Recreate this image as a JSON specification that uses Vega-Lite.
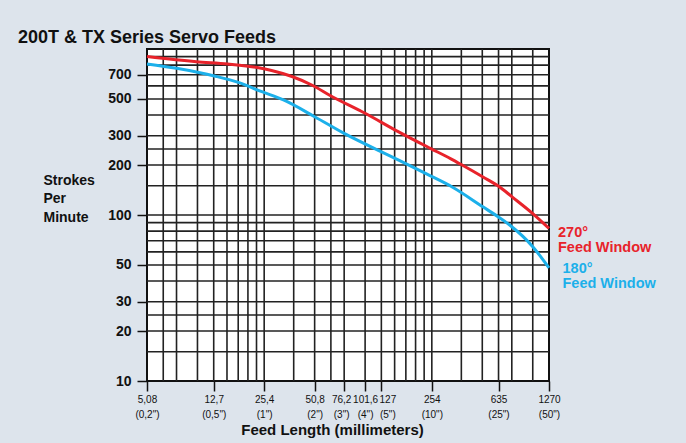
{
  "$schema": "https://vega.github.io/schema/vega-lite/v6.json",
  "autosize": "none",
  "width": 402,
  "height": 332,
  "padding": {"left": 147, "top": 49, "right": 137, "bottom": 62},
  "background": "#dde4ec",
  "title": {
    "text": "200T & TX Series Servo Feeds",
    "anchor": "start",
    "frame": "group",
    "font": "Liberation Sans",
    "fontSize": 18,
    "fontWeight": "bold",
    "color": "#111111",
    "dx": -129,
    "baseline": "alphabetic",
    "offset": -13
  },
  "config": {
    "font": "Liberation Sans",
    "view": {"fill": "white", "stroke": "#111111", "strokeWidth": 2}
  },
  "datasets": {
    "curves": [
      {"series": "270°", "mm": 5.08, "spm": 900},
      {"series": "270°", "mm": 10, "spm": 838},
      {"series": "270°", "mm": 15.4, "spm": 812},
      {"series": "270°", "mm": 22.7, "spm": 776},
      {"series": "270°", "mm": 28.1, "spm": 742},
      {"series": "270°", "mm": 37.2, "spm": 683},
      {"series": "270°", "mm": 49.5, "spm": 603},
      {"series": "270°", "mm": 62.8, "spm": 525},
      {"series": "270°", "mm": 101.6, "spm": 410},
      {"series": "270°", "mm": 160, "spm": 318},
      {"series": "270°", "mm": 249, "spm": 252},
      {"series": "270°", "mm": 330, "spm": 218},
      {"series": "270°", "mm": 385, "spm": 200},
      {"series": "270°", "mm": 510, "spm": 170},
      {"series": "270°", "mm": 642, "spm": 148},
      {"series": "270°", "mm": 762, "spm": 129},
      {"series": "270°", "mm": 1016, "spm": 102},
      {"series": "270°", "mm": 1270, "spm": 83},
      {"series": "180°", "mm": 5.08, "spm": 812},
      {"series": "180°", "mm": 7.62, "spm": 765},
      {"series": "180°", "mm": 10.5, "spm": 720},
      {"series": "180°", "mm": 12.8, "spm": 688},
      {"series": "180°", "mm": 18, "spm": 627},
      {"series": "180°", "mm": 24.6, "spm": 553},
      {"series": "180°", "mm": 33.1, "spm": 493},
      {"series": "180°", "mm": 50.8, "spm": 391},
      {"series": "180°", "mm": 76.2, "spm": 310},
      {"series": "180°", "mm": 160, "spm": 215},
      {"series": "180°", "mm": 233, "spm": 178},
      {"series": "180°", "mm": 338, "spm": 147},
      {"series": "180°", "mm": 512, "spm": 112},
      {"series": "180°", "mm": 627, "spm": 98},
      {"series": "180°", "mm": 740, "spm": 87},
      {"series": "180°", "mm": 1016, "spm": 64.4},
      {"series": "180°", "mm": 1270, "spm": 48}
    ],
    "xgrid": [
      {"mm": 6.35}, {"mm": 7.62}, {"mm": 10.16}, {"mm": 12.7}, {"mm": 15.24},
      {"mm": 17.78}, {"mm": 20.32}, {"mm": 22.86}, {"mm": 25.4}, {"mm": 38.1},
      {"mm": 50.8}, {"mm": 63.5}, {"mm": 76.2}, {"mm": 101.6}, {"mm": 127},
      {"mm": 152.4}, {"mm": 177.8}, {"mm": 203.2}, {"mm": 228.6}, {"mm": 254},
      {"mm": 381}, {"mm": 508}, {"mm": 635}, {"mm": 762}, {"mm": 1016}
    ],
    "ygrid": [
      {"spm": 15}, {"spm": 20}, {"spm": 25}, {"spm": 30}, {"spm": 40},
      {"spm": 50}, {"spm": 60}, {"spm": 70}, {"spm": 80}, {"spm": 90},
      {"spm": 100}, {"spm": 150}, {"spm": 200}, {"spm": 250}, {"spm": 300},
      {"spm": 400}, {"spm": 500}, {"spm": 600}, {"spm": 700}, {"spm": 800},
      {"spm": 900}
    ],
    "labels": [
      {"series": "270°", "mm": 1270, "spm": 73.7, "t": "270°\nFeed Window"},
      {"series": "180°", "mm": 1270, "spm": 45, "t": "180°\nFeed Window"}
    ]
  },
  "layer": [
    {
      "data": {"name": "xgrid"},
      "mark": {"type": "rule", "color": "#222222", "strokeWidth": 1.6},
      "encoding": {
        "x": {
          "field": "mm", "type": "quantitative",
          "scale": {"type": "log", "domain": [5.08, 1270], "nice": false},
          "axis": {
            "values": [5.08, 12.7, 25.4, 50.8, 76.2, 101.6, 127, 254, 635, 1270],
            "labelExpr": "[replace(format(datum.value, '~g'), '.', ','), '(' + replace(format(datum.value / 25.4, '.2~f'), '.', ',') + '\")']",
            "grid": false, "domain": false,
            "tickSize": 10, "tickColor": "#111111", "tickWidth": 1.5,
            "labelFont": "Liberation Sans", "labelFontSize": 10, "labelLineHeight": 15,
            "labelOffset": {"condition": [{"test": "datum.value == 127", "value": 6}, {"test": "datum.value == 76.2", "value": -3}], "value": 0},
            "labelPadding": 3, "labelColor": "#111111", "labelOverlap": false, "labelFlush": false,
            "title": "Feed Length (millimeters)", "titleFontSize": 15, "titleFontWeight": "bold",
            "titleColor": "#111111", "titleX": 185, "titleY": 53, "titleAlign": "center", "titleBaseline": "alphabetic"
          }
        }
      }
    },
    {
      "data": {"name": "ygrid"},
      "mark": {"type": "rule", "color": "#222222", "strokeWidth": 1.6},
      "encoding": {
        "y": {
          "field": "spm", "type": "quantitative",
          "scale": {"type": "log", "domain": [10, 1000], "nice": false},
          "axis": {
            "values": [10, 20, 30, 50, 100, 200, 300, 500, 700],
            "format": "d",
            "grid": false, "domain": false,
            "tickSize": 10, "tickColor": "#111111", "tickWidth": 1.5,
            "labelFontSize": 14, "labelFontWeight": "bold", "labelPadding": 6, "labelColor": "#111111",
            "title": ["Strokes", "Per", "Minute"], "titleAngle": 0, "titleAlign": "left",
            "titleBaseline": "alphabetic", "titleX": -104, "titleY": 135,
            "titleFontSize": 14, "titleFontWeight": "bold", "titleLineHeight": 18.5, "titleColor": "#111111"
          }
        }
      }
    },
    {
      "data": {"name": "curves"},
      "mark": {"type": "line", "strokeWidth": 3, "interpolate": "monotone"},
      "encoding": {
        "x": {"field": "mm", "type": "quantitative", "scale": {"type": "log", "domain": [5.08, 1270], "nice": false}},
        "y": {"field": "spm", "type": "quantitative", "scale": {"type": "log", "domain": [10, 1000], "nice": false}},
        "color": {
          "field": "series", "type": "nominal",
          "scale": {"domain": ["270°", "180°"], "range": ["#e8232b", "#1cb0ea"]},
          "legend": null
        }
      }
    },
    {
      "data": {"name": "labels"},
      "transform": [{"filter": "datum.series == '270°'"}],
      "mark": {"type": "text", "align": "left", "baseline": "alphabetic", "dx": 9, "lineBreak": "\n", "lineHeight": 15, "fontSize": 14.5, "fontWeight": "bold", "color": "#e8232b"},
      "encoding": {
        "x": {"field": "mm", "type": "quantitative", "scale": {"type": "log", "domain": [5.08, 1270], "nice": false}},
        "y": {"field": "spm", "type": "quantitative", "scale": {"type": "log", "domain": [10, 1000], "nice": false}},
        "text": {"field": "t", "type": "nominal"}
      }
    },
    {
      "data": {"name": "labels"},
      "transform": [{"filter": "datum.series == '180°'"}],
      "mark": {"type": "text", "align": "left", "baseline": "alphabetic", "dx": 13.5, "lineBreak": "\n", "lineHeight": 15, "fontSize": 14.5, "fontWeight": "bold", "color": "#1cb0ea"},
      "encoding": {
        "x": {"field": "mm", "type": "quantitative", "scale": {"type": "log", "domain": [5.08, 1270], "nice": false}},
        "y": {"field": "spm", "type": "quantitative", "scale": {"type": "log", "domain": [10, 1000], "nice": false}},
        "text": {"field": "t", "type": "nominal"}
      }
    }
  ]
}
